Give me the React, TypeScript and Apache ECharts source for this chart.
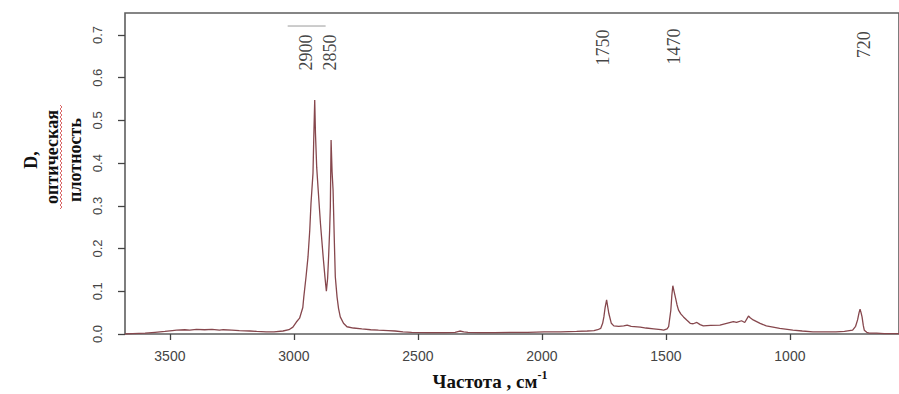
import { useEffect, useRef } from "react";
import * as echarts from "echarts";

// Wavenumber (cm-1), descending, and optical density
const wavenumber = [
  3681, 3650, 3600, 3560, 3520, 3490, 3473, 3440, 3420, 3393, 3360, 3330, 3300, 3285, 3250, 3220,
  3177, 3150, 3112, 3080, 3044, 3020, 3004, 2990, 2977, 2964, 2960, 2951, 2943, 2936, 2931, 2923,
  2920, 2916, 2913, 2908, 2902, 2893, 2882, 2875, 2869, 2864, 2860, 2856, 2853, 2850, 2846, 2842,
  2837, 2833, 2826, 2820, 2813, 2800, 2786, 2760, 2726, 2690, 2659, 2620, 2592, 2560, 2525, 2458,
  2391, 2350, 2331, 2315, 2298, 2250, 2191, 2120, 2057, 1990, 1924, 1860, 1817, 1790, 1775, 1763,
  1755, 1750, 1745, 1739, 1734, 1730, 1720, 1710, 1690, 1670, 1656, 1640, 1603, 1580, 1549, 1520,
  1509, 1495, 1489, 1480, 1476, 1472, 1467, 1462, 1455, 1449, 1440, 1429, 1415, 1402, 1390, 1375,
  1362, 1349, 1320, 1282, 1255, 1228, 1215, 1195, 1182, 1167, 1160, 1148, 1120, 1095, 1041, 988,
  950, 907, 860, 814, 780, 747, 735, 727, 721, 717, 713, 709, 704, 700, 690, 680, 650, 620, 586, 560,
];
const absorbance = [
  0.000, 0.001, 0.002, 0.004, 0.006, 0.008, 0.009, 0.010, 0.009, 0.011, 0.010, 0.011, 0.009, 0.010, 0.009, 0.008,
  0.007, 0.006, 0.005, 0.005, 0.007, 0.010, 0.016, 0.028, 0.037, 0.062, 0.087, 0.134, 0.181, 0.243, 0.306, 0.376,
  0.454, 0.548, 0.470, 0.390, 0.337, 0.260, 0.181, 0.135, 0.100, 0.130, 0.181, 0.240, 0.298, 0.454, 0.380, 0.337,
  0.220, 0.134, 0.087, 0.060, 0.040, 0.025, 0.017, 0.014, 0.012, 0.010, 0.009, 0.008, 0.007, 0.005, 0.004, 0.003,
  0.003, 0.004, 0.007, 0.005, 0.004, 0.003, 0.003, 0.004, 0.004, 0.005, 0.005, 0.006, 0.007, 0.008, 0.010, 0.013,
  0.025, 0.040, 0.062, 0.080, 0.062, 0.048, 0.025, 0.019, 0.018, 0.019, 0.021, 0.018, 0.016, 0.014, 0.012, 0.010,
  0.009, 0.012, 0.017, 0.056, 0.090, 0.113, 0.100, 0.087, 0.068, 0.056, 0.047, 0.040, 0.032, 0.025, 0.024, 0.027,
  0.022, 0.019, 0.020, 0.021, 0.025, 0.029, 0.027, 0.031, 0.027, 0.042, 0.038, 0.033, 0.025, 0.019, 0.013, 0.009,
  0.007, 0.005, 0.005, 0.005, 0.006, 0.009, 0.018, 0.033, 0.050, 0.058, 0.050, 0.040, 0.020, 0.009, 0.004, 0.002, 0.002, 0.001, 0.001, 0.001,
];

const xTicks = [3500, 3000, 2500, 2000, 1500, 1000];
const yTicks = [0, 0.1, 0.2, 0.3, 0.4, 0.5, 0.6, 0.7];

const peakLabels = ["2900", "2850", "1750", "1470", "720"];
const peakLabelX = [2950, 2853, 1753, 1468, 702];
const peakLabelY = [0.659, 0.659, 0.671, 0.673, 0.677];

const bracketX = [3025, 2872];
const bracketY = 0.721;

const yTitleLines = ["D,", "оптическая", "плотность"];
const xTitleMain = "Частота , см";
const xTitleSup = "-1";

export default function App() {
  const ref = useRef<HTMLDivElement>(null);
  useEffect(() => {
    const chart = echarts.init(ref.current!, null, { renderer: "svg" });

    const squiggle: number[][] = [];
    for (let i = 0; i <= 52; i++) {
      squiggle.push([61 + (i % 2 === 0 ? -1 : 1), 105 + i * 2]);
    }

    const titleFont = "bold 18px 'Liberation Serif', 'Times New Roman', serif";

    chart.setOption({
      animation: false,
      backgroundColor: "#ffffff",
      grid: {
        left: 125,
        top: 13,
        bottom: 60,
        right: -4,
        show: true,
        borderColor: "#5e5e5e",
        borderWidth: 1.6,
      },
      xAxis: {
        type: "value",
        inverse: true,
        min: 560,
        max: 3681,
        axisLine: { show: false },
        splitLine: { show: false },
        axisTick: {
          show: true,
          customValues: xTicks,
          length: 6,
          lineStyle: { color: "#444", width: 1.3 },
        },
        axisLabel: {
          customValues: xTicks,
          margin: 15,
          color: "#444",
          fontFamily: "Liberation Sans, Arial, sans-serif",
          fontSize: 14,
          formatter: (v: number) => String(v),
        },
      },
      yAxis: {
        type: "value",
        min: 0,
        max: 0.7515,
        axisLine: { show: false },
        splitLine: { show: false },
        axisTick: {
          show: true,
          customValues: yTicks,
          length: 7,
          lineStyle: { color: "#444", width: 1.3 },
        },
        axisLabel: {
          customValues: yTicks,
          rotate: 90,
          margin: 21,
          color: "#444",
          fontFamily: "Liberation Sans, Arial, sans-serif",
          fontSize: 13,
          formatter: (v: number) => v.toFixed(1),
        },
      },
      series: [
        {
          type: "line",
          data: wavenumber.map((w, i) => [w, absorbance[i]]),
          showSymbol: false,
          symbol: "none",
          lineStyle: { color: "#86474d", width: 1.3 },
          z: 3,
        },
        {
          type: "line",
          data: bracketX.map((x) => [x, bracketY]),
          showSymbol: false,
          symbol: "none",
          lineStyle: { color: "#9a9a9a", width: 1 },
        },
        {
          type: "scatter",
          symbolSize: 0,
          data: peakLabels.map((t, i) => [peakLabelX[i], peakLabelY[i], t]),
          label: {
            show: true,
            position: "inside",
            rotate: 90,
            formatter: (p: any) => p.value[2],
            color: "#111",
            fontFamily: "Liberation Serif, Times New Roman, serif",
            fontSize: 18,
          },
        },
      ],
      graphic: [
        {
          type: "text",
          x: 31,
          y: 160,
          rotation: Math.PI / 2,
          style: {
            text: yTitleLines[0],
            fill: "#111",
            font: titleFont,
            align: "center",
            verticalAlign: "middle",
          },
        },
        {
          type: "text",
          x: 52,
          y: 157,
          rotation: Math.PI / 2,
          style: {
            text: yTitleLines[1],
            fill: "#111",
            font: titleFont,
            align: "center",
            verticalAlign: "middle",
          },
        },
        {
          type: "polyline",
          shape: { points: squiggle },
          style: { stroke: "#d04040", lineWidth: 0.8, fill: "none" },
        },
        {
          type: "text",
          x: 75,
          y: 160,
          rotation: Math.PI / 2,
          style: {
            text: yTitleLines[2],
            fill: "#111",
            font: titleFont,
            align: "center",
            verticalAlign: "middle",
          },
        },
        {
          type: "text",
          x: 490,
          y: 380,
          style: {
            text: `{a|${xTitleMain}}{b|${xTitleSup}}`,
            align: "center",
            verticalAlign: "middle",
            rich: {
              a: {
                font: "bold 19px 'Liberation Serif', serif",
                fill: "#111",
                lineHeight: 22,
                verticalAlign: "bottom",
              },
              b: {
                font: "bold 12px 'Liberation Serif', serif",
                fill: "#111",
                lineHeight: 22,
                verticalAlign: "top",
              },
            },
          },
        },
      ],
    });
    return () => chart.dispose();
  }, []);
  return (
    <div
      ref={ref}
      style={{ position: "fixed", left: 0, top: 0, width: 899, height: 394 }}
    />
  );
}
